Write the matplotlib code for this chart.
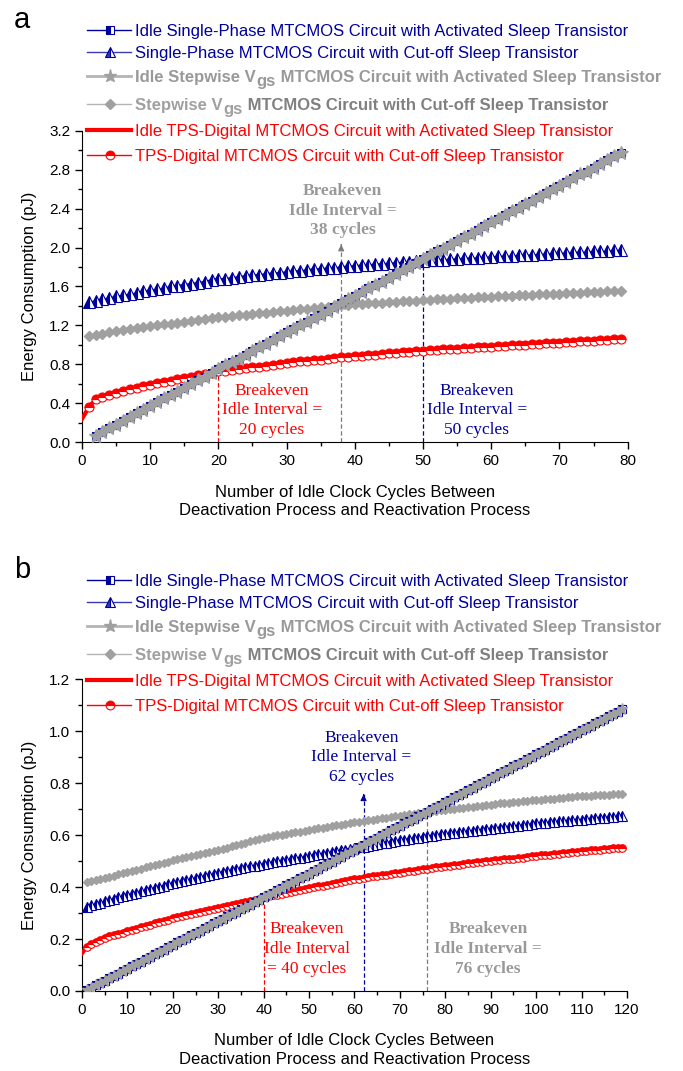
import matplotlib
matplotlib.use("Agg")
import matplotlib.pyplot as plt
from matplotlib.lines import Line2D
from matplotlib.ticker import MultipleLocator

SANS = "Liberation Sans"
SERIF = "Liberation Serif"
plt.rcParams["font.family"] = SANS

BLUE = "#00009c"
GRAY = "#a0a0a0"
RED = "#ff0000"

# legend texts; rows with a V_gs subscript are split into (before, subscript, after)
labels = [
    ("Idle Single-Phase MTCMOS Circuit with Activated Sleep Transistor",),
    ("Single-Phase MTCMOS Circuit with Cut-off Sleep Transistor",),
    ("Idle Stepwise V", "gs", " MTCMOS Circuit with Activated Sleep Transistor"),
    ("Stepwise V", "gs", " MTCMOS Circuit with Cut-off Sleep Transistor"),
    ("Idle TPS-Digital MTCMOS Circuit with Activated Sleep Transistor",),
    ("TPS-Digital MTCMOS Circuit with Cut-off Sleep Transistor",),
]

# ---------------- panel a data (cycles 1..79) ----------------
cycles_a = list(range(1, 80))
lin_cycles_a = list(range(2, 80))
idle_single_a = [
    0.07, 0.11, 0.15, 0.18, 0.22, 0.26, 0.30, 0.33, 0.37, 0.41, 0.45, 0.49, 0.52,
    0.56, 0.60, 0.64, 0.67, 0.71, 0.75, 0.79, 0.82, 0.86, 0.90, 0.94, 0.98, 1.01,
    1.05, 1.09, 1.13, 1.16, 1.20, 1.24, 1.28, 1.31, 1.35, 1.39, 1.43, 1.47, 1.50,
    1.54, 1.58, 1.62, 1.65, 1.69, 1.73, 1.77, 1.80, 1.84, 1.88, 1.92, 1.96, 1.99,
    2.03, 2.07, 2.11, 2.14, 2.18, 2.22, 2.26, 2.29, 2.33, 2.37, 2.41, 2.45, 2.48,
    2.52, 2.56, 2.60, 2.63, 2.67, 2.71, 2.75, 2.78, 2.82, 2.86, 2.90, 2.94, 2.97,
]
idle_stepwise_a = idle_single_a
cut_single_a = [
    1.44, 1.45, 1.47, 1.48, 1.50, 1.51, 1.52, 1.53, 1.55, 1.56,
    1.57, 1.58, 1.60, 1.61, 1.62, 1.63, 1.64, 1.65, 1.67, 1.68,
    1.68, 1.69, 1.70, 1.71, 1.72, 1.72, 1.73, 1.74, 1.74, 1.75,
    1.76, 1.76, 1.77, 1.78, 1.78, 1.79, 1.79, 1.80, 1.81, 1.81,
    1.82, 1.82, 1.83, 1.83, 1.84, 1.84, 1.85, 1.85, 1.86, 1.86,
    1.87, 1.87, 1.87, 1.88, 1.88, 1.89, 1.89, 1.89, 1.90, 1.90,
    1.91, 1.91, 1.91, 1.92, 1.92, 1.92, 1.93, 1.93, 1.94, 1.94,
    1.94, 1.95, 1.95, 1.95, 1.96, 1.96, 1.96, 1.97, 1.97,
]
cut_stepwise_a = [
    1.09, 1.10, 1.11, 1.13, 1.14, 1.15, 1.16, 1.17, 1.18, 1.19,
    1.20, 1.21, 1.22, 1.23, 1.24, 1.25, 1.26, 1.27, 1.28, 1.29,
    1.29, 1.30, 1.31, 1.31, 1.32, 1.33, 1.33, 1.34, 1.35, 1.35,
    1.36, 1.37, 1.37, 1.38, 1.39, 1.39, 1.40, 1.41, 1.41, 1.42,
    1.42, 1.43, 1.43, 1.43, 1.44, 1.44, 1.45, 1.45, 1.45, 1.46,
    1.46, 1.47, 1.47, 1.47, 1.48, 1.48, 1.48, 1.49, 1.49, 1.49,
    1.50, 1.50, 1.50, 1.51, 1.51, 1.51, 1.52, 1.52, 1.52, 1.52,
    1.53, 1.53, 1.53, 1.54, 1.54, 1.54, 1.55, 1.55, 1.55,
]
cut_tps_a = [
    0.36, 0.44, 0.47, 0.49, 0.51, 0.53, 0.55, 0.56, 0.58, 0.59,
    0.61, 0.62, 0.63, 0.65, 0.66, 0.67, 0.69, 0.70, 0.71, 0.73,
    0.73, 0.74, 0.75, 0.76, 0.77, 0.77, 0.78, 0.79, 0.80, 0.81,
    0.82, 0.83, 0.84, 0.85, 0.85, 0.86, 0.87, 0.88, 0.88, 0.89,
    0.89, 0.90, 0.90, 0.91, 0.92, 0.92, 0.93, 0.93, 0.94, 0.94,
    0.95, 0.95, 0.96, 0.96, 0.96, 0.97, 0.97, 0.98, 0.98, 0.98,
    0.99, 0.99, 1.00, 1.00, 1.00, 1.01, 1.01, 1.02, 1.02, 1.02,
    1.03, 1.03, 1.04, 1.04, 1.04, 1.05, 1.05, 1.06, 1.06,
]
idle_tps_cycles_a = [0] + cycles_a
idle_tps_a = [0.24] + cut_tps_a

# ---------------- panel b data (cycles 1..119) ----------------
cycles_b = list(range(1, 120))
idle_single_b = [
    0.003, 0.012, 0.022, 0.031, 0.040, 0.049, 0.058, 0.067, 0.077, 0.086,
    0.095, 0.104, 0.113, 0.122, 0.132, 0.141, 0.150, 0.159, 0.168, 0.177,
    0.187, 0.196, 0.205, 0.214, 0.223, 0.232, 0.242, 0.251, 0.260, 0.269,
    0.278, 0.287, 0.297, 0.306, 0.315, 0.324, 0.333, 0.342, 0.352, 0.361,
    0.370, 0.379, 0.388, 0.397, 0.407, 0.416, 0.425, 0.434, 0.443, 0.452,
    0.462, 0.471, 0.480, 0.489, 0.498, 0.508, 0.517, 0.526, 0.535, 0.544,
    0.553, 0.563, 0.572, 0.581, 0.590, 0.599, 0.608, 0.618, 0.627, 0.636,
    0.645, 0.654, 0.663, 0.673, 0.682, 0.691, 0.700, 0.709, 0.718, 0.728,
    0.737, 0.746, 0.755, 0.764, 0.773, 0.783, 0.792, 0.801, 0.810, 0.819,
    0.828, 0.838, 0.847, 0.856, 0.865, 0.874, 0.883, 0.893, 0.902, 0.911,
    0.920, 0.929, 0.939, 0.948, 0.957, 0.966, 0.975, 0.984, 0.994, 1.003,
    1.012, 1.021, 1.030, 1.039, 1.049, 1.058, 1.067, 1.076, 1.085,
]
idle_stepwise_b = idle_single_b
cut_single_b = [
    0.325, 0.330, 0.335, 0.340, 0.345, 0.350, 0.355, 0.360, 0.365, 0.370,
    0.375, 0.379, 0.384, 0.388, 0.393, 0.397, 0.402, 0.406, 0.411, 0.415,
    0.419, 0.423, 0.427, 0.431, 0.435, 0.439, 0.443, 0.447, 0.451, 0.455,
    0.459, 0.462, 0.466, 0.469, 0.473, 0.476, 0.480, 0.483, 0.487, 0.490,
    0.493, 0.496, 0.499, 0.502, 0.505, 0.508, 0.511, 0.514, 0.517, 0.520,
    0.523, 0.526, 0.529, 0.532, 0.535, 0.538, 0.541, 0.544, 0.547, 0.550,
    0.553, 0.556, 0.559, 0.562, 0.565, 0.568, 0.571, 0.574, 0.577, 0.580,
    0.583, 0.585, 0.588, 0.590, 0.593, 0.595, 0.598, 0.600, 0.603, 0.605,
    0.607, 0.609, 0.611, 0.613, 0.615, 0.617, 0.619, 0.621, 0.623, 0.625,
    0.627, 0.629, 0.631, 0.633, 0.635, 0.637, 0.639, 0.641, 0.643, 0.645,
    0.647, 0.648, 0.650, 0.651, 0.653, 0.654, 0.656, 0.657, 0.659, 0.660,
    0.662, 0.663, 0.665, 0.667, 0.668, 0.670, 0.671, 0.673, 0.675,
]
cut_stepwise_b = [
    0.418, 0.422, 0.427, 0.431, 0.436, 0.440, 0.444, 0.449, 0.453, 0.458,
    0.462, 0.467, 0.471, 0.476, 0.480, 0.485, 0.489, 0.494, 0.498, 0.503,
    0.507, 0.511, 0.515, 0.519, 0.523, 0.527, 0.531, 0.535, 0.539, 0.543,
    0.548, 0.552, 0.557, 0.562, 0.566, 0.571, 0.576, 0.580, 0.585, 0.590,
    0.593, 0.596, 0.599, 0.602, 0.605, 0.608, 0.611, 0.614, 0.617, 0.620,
    0.623, 0.626, 0.629, 0.632, 0.635, 0.638, 0.641, 0.644, 0.647, 0.650,
    0.652, 0.655, 0.657, 0.660, 0.662, 0.665, 0.667, 0.670, 0.672, 0.675,
    0.677, 0.680, 0.682, 0.685, 0.687, 0.690, 0.692, 0.694, 0.696, 0.698,
    0.700, 0.702, 0.704, 0.706, 0.708, 0.710, 0.712, 0.714, 0.716, 0.718,
    0.720, 0.722, 0.723, 0.725, 0.727, 0.729, 0.730, 0.732, 0.734, 0.735,
    0.737, 0.738, 0.740, 0.741, 0.743, 0.744, 0.746, 0.747, 0.749, 0.750,
    0.751, 0.752, 0.753, 0.754, 0.755, 0.756, 0.757, 0.758, 0.760,
]
cut_tps_b = [
    0.170, 0.180, 0.188, 0.197, 0.205, 0.210, 0.215, 0.220, 0.225, 0.230,
    0.235, 0.240, 0.245, 0.250, 0.255, 0.260, 0.265, 0.270, 0.275, 0.280,
    0.284, 0.288, 0.292, 0.296, 0.300, 0.304, 0.308, 0.312, 0.316, 0.320,
    0.324, 0.328, 0.332, 0.336, 0.340, 0.344, 0.348, 0.352, 0.356, 0.360,
    0.364, 0.368, 0.371, 0.375, 0.378, 0.382, 0.385, 0.389, 0.392, 0.396,
    0.399, 0.403, 0.406, 0.410, 0.413, 0.417, 0.420, 0.423, 0.427, 0.430,
    0.433, 0.436, 0.438, 0.441, 0.443, 0.446, 0.448, 0.451, 0.453, 0.456,
    0.458, 0.461, 0.463, 0.466, 0.468, 0.471, 0.473, 0.476, 0.478, 0.481,
    0.483, 0.485, 0.487, 0.489, 0.491, 0.493, 0.495, 0.497, 0.499, 0.501,
    0.503, 0.505, 0.507, 0.509, 0.510, 0.512, 0.514, 0.516, 0.518, 0.520,
    0.522, 0.524, 0.525, 0.527, 0.529, 0.531, 0.533, 0.534, 0.536, 0.538,
    0.539, 0.541, 0.542, 0.544, 0.545, 0.547, 0.549, 0.550, 0.552,
]
idle_tps_cycles_b = [0] + cycles_b
idle_tps_b = [0.145] + cut_tps_b

# breakeven notes: cycle, y at crossing, text x, text y, colour, bold, arrow top, text
notes_a = [
    (20, 0.74, 27.8, 0.33, RED, False, None, "Breakeven\nIdle Interval =\n20 cycles"),
    (38, 1.43, 38.2, 2.38, "#999999", True, 2.03, "Breakeven\nIdle Interval =\n38 cycles"),
    (50, 1.88, 57.9, 0.33, BLUE, False, None, "Breakeven\nIdle Interval =\n50 cycles"),
]
notes_b = [
    (40, 0.36, 49.5, 0.162, RED, False, None, "Breakeven\nIdle Interval\n= 40 cycles"),
    (62, 0.563, 61.5, 0.90, BLUE, False, 0.757, "Breakeven\nIdle Interval =\n62 cycles"),
    (76, 0.69, 89.4, 0.162, "#999999", True, None, "Breakeven\nIdle Interval =\n76 cycles"),
]

styles = [
    dict(color=BLUE, lw=1, marker="s", fillstyle="left", markerfacecoloralt="white", mec=BLUE, mew=0.8),
    dict(color=BLUE, lw=1, marker="^", fillstyle="left", markerfacecoloralt="white", mec=BLUE, mew=0.8),
    dict(color=GRAY, lw=2, marker="*", mfc=GRAY, mec=GRAY),
    dict(color=GRAY, lw=1, marker="D", mfc=GRAY, mec=GRAY),
    dict(color=RED, lw=3, marker="None"),
    dict(color=RED, lw=1, marker="o", fillstyle="top", markerfacecoloralt="white", mec=RED, mew=0.8),
]
size_factor = [1.0, 1.3, 1.6, 0.85, 1.0, 1.05]
legend_line_colors = [BLUE, "#3a3ab0", "#b4b4b4", "#b4b4b4", RED, RED]
legend_text_colors = [(BLUE,), (BLUE,), ("#999999",) * 3, ("#a0a0a0", "#a0a0a0", "#808080"), (RED,), (RED,)]
legend_bold = [False, False, True, True, False, False]
legend_rows = [30, 52, 76, 104, 130, 155]


def draw_panel(ax, x, lin_x, idle_single, idle_step, cut_single, cut_step,
               tps_x, idle_tps, cut_tps, ms, notes):
    ax.plot(x, cut_single, ms=ms * size_factor[1], zorder=3, **styles[1])
    ax.plot(x, cut_step, ms=ms * size_factor[3], zorder=3, **styles[3])
    ax.plot(tps_x, idle_tps, zorder=4, **styles[4])
    ax.plot(x, cut_tps, ms=ms * size_factor[5], zorder=5, **styles[5])
    ax.plot(lin_x, idle_single, ms=ms * size_factor[0], zorder=6, **styles[0])
    ax.plot(lin_x, idle_step, ms=ms * size_factor[2], zorder=7, **styles[2])

    for cyc, yc, tx, ty, col, bold, arrow_top, txt in notes:
        dash_col = "#7a7a7a" if col == "#999999" else col
        top = arrow_top if arrow_top is not None else yc
        ax.plot([cyc, cyc], [0, top], color=dash_col, lw=0.9, ls=(0, (3.5, 2)), zorder=2)
        if arrow_top is not None:
            ax.annotate("", xy=(cyc, arrow_top), xytext=(cyc, arrow_top - 0.001),
                        arrowprops=dict(arrowstyle="-|>", color=dash_col, lw=0.8,
                                        mutation_scale=9, shrinkA=0, shrinkB=0))
        ax.text(tx, ty, txt, color=col, family=SERIF, fontsize=12.5,
                fontweight="bold" if bold else "normal", ha="center", va="center",
                linespacing=1.3, zorder=8)

    for s in ("top", "right"):
        ax.spines[s].set_visible(False)
    ax.tick_params(which="both", direction="out", labelsize=11, width=1)
    ax.tick_params(which="major", length=5)
    ax.tick_params(which="minor", length=3)
    ax.set_ylabel("Energy Consumption (pJ)", fontsize=12, labelpad=9)
    ax.set_xlabel("Number of Idle Clock Cycles Between\nDeactivation Process and Reactivation Process",
                  fontsize=12, labelpad=12, linespacing=1.3)


def draw_legend(fig, ax, offset, ms):
    W, H = 683.0, 1071.0
    fs = 12
    for i, parts in enumerate(labels):
        yc = 1 - (legend_rows[i] + offset) / H
        st = dict(styles[i])
        st["color"] = legend_line_colors[i]
        fig.add_artist(Line2D([87 / W, 110 / W, 131 / W], [yc, yc, yc], transform=fig.transFigure,
                              markevery=[1], ms=ms * size_factor[i], **st))
        weight = "bold" if legend_bold[i] else "normal"
        cols = legend_text_colors[i]
        t1 = fig.text(135 / W, yc - 6 / H, parts[0], color=cols[0], fontsize=fs,
                      fontweight=weight, va="baseline", ha="left")
        if len(parts) == 3:
            t2 = ax.annotate(parts[1], xy=(1, 0), xycoords=t1, xytext=(0.5, -1.0),
                             textcoords="offset points", va="baseline", ha="left",
                             color=cols[1], fontsize=fs, fontweight=weight, annotation_clip=False)
            ax.annotate(parts[2], xy=(1, 0), xycoords=(t2, t1), xytext=(0, 0),
                        textcoords="offset points", va="bottom", ha="left",
                        color=cols[2], fontsize=fs, fontweight=weight, annotation_clip=False)


fig = plt.figure(figsize=(6.83, 10.71), dpi=100)
ax_a = fig.add_axes([0.120, 0.587, 0.799, 0.291])
ax_b = fig.add_axes([0.120, 0.0747, 0.798, 0.291])

draw_panel(ax_a, cycles_a, lin_cycles_a, idle_single_a, idle_stepwise_a,
           cut_single_a, cut_stepwise_a, idle_tps_cycles_a, idle_tps_a,
           cut_tps_a, 6.2, notes_a)
ax_a.set_xlim(0, 80)
ax_a.set_ylim(0, 3.2)
ax_a.xaxis.set_major_locator(MultipleLocator(10))
ax_a.xaxis.set_minor_locator(MultipleLocator(5))
ax_a.yaxis.set_major_locator(MultipleLocator(0.4))
ax_a.yaxis.set_minor_locator(MultipleLocator(0.2))
ax_a.yaxis.set_major_formatter(plt.FormatStrFormatter("%.1f"))

draw_panel(ax_b, cycles_b, cycles_b, idle_single_b, idle_stepwise_b,
           cut_single_b, cut_stepwise_b, idle_tps_cycles_b, idle_tps_b,
           cut_tps_b, 5.2, notes_b)
ax_b.set_xlim(0, 120)
ax_b.set_ylim(0, 1.2)
ax_b.xaxis.set_major_locator(MultipleLocator(10))
ax_b.xaxis.set_minor_locator(MultipleLocator(5))
ax_b.yaxis.set_major_locator(MultipleLocator(0.2))
ax_b.yaxis.set_minor_locator(MultipleLocator(0.1))
ax_b.yaxis.set_major_formatter(plt.FormatStrFormatter("%.1f"))

draw_legend(fig, ax_a, 0, 6.0)
draw_legend(fig, ax_b, 550, 6.0)

fig.text(14 / 683, 1 - 6 / 1071, "a", fontsize=21, va="top", ha="left")
fig.text(14 / 683, 1 - 556 / 1071, "b", fontsize=21, va="top", ha="left")

fig.savefig("out.png", dpi=100)
